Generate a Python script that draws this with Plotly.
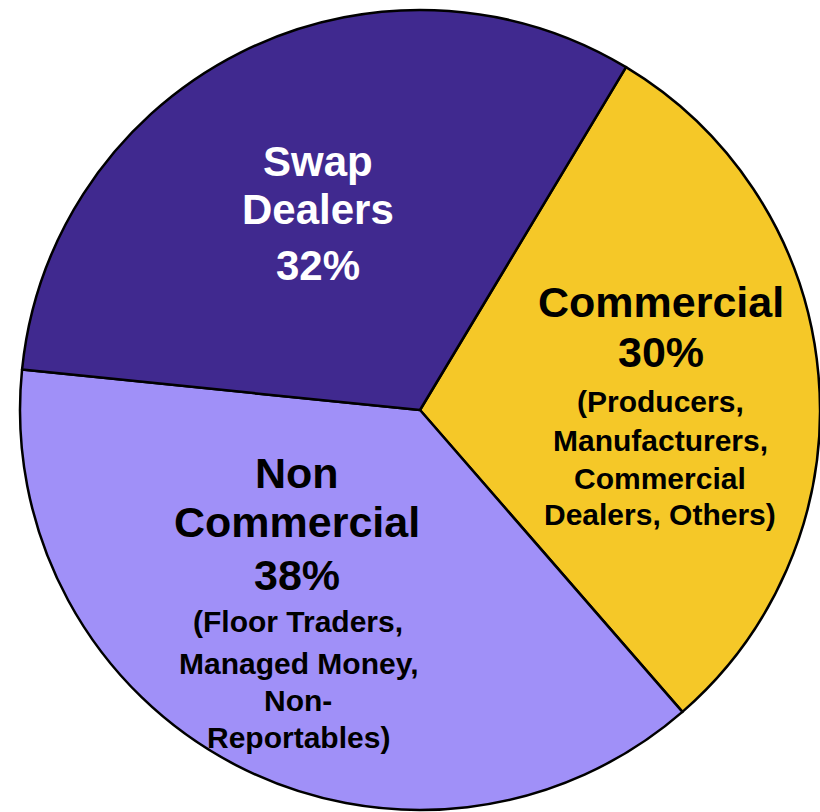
import plotly.graph_objects as go

# ---- data ----
labels = ["Commercial", "Non Commercial", "Swap Dealers"]
values = [30, 38, 32]
slice_colors = ["#F5C828", "#A090F8", "#40298F"]

swap_lines = ["Swap", "Dealers", "32%"]
commercial_main = ["Commercial", "30%"]
commercial_sub = ["(Producers,", "Manufacturers,", "Commercial", "Dealers, Others)"]
noncomm_main = ["Non", "Commercial", "38%"]
noncomm_sub = ["(Floor Traders,", "Managed Money,", "Non-", "Reportables)"]

W, H = 820, 812
FONT = "Liberation Sans, Arial, Helvetica, sans-serif"

fig = go.Figure(go.Pie(
    labels=labels,
    values=values,
    sort=False,
    direction="clockwise",
    rotation=31,
    marker=dict(colors=slice_colors, line=dict(color="black", width=2.5)),
    textinfo="none",
    hoverinfo="label+percent",
    showlegend=False,
    domain=dict(x=[20 / W, 820 / W], y=[1 - 810 / H, 1 - 10 / H]),
))

annotations = []

def add_lines(lines, x_px, y_px_list, size, color):
    for text, y_px in zip(lines, y_px_list):
        annotations.append(dict(
            text="<b>" + text + "</b>",
            x=x_px / W, y=1 - y_px / H,
            xref="paper", yref="paper",
            xanchor="center", yanchor="middle",
            showarrow=False,
            font=dict(family=FONT, size=size, color=color),
        ))

add_lines(swap_lines, 318, [161, 210, 265], 42, "white")
add_lines(commercial_main, 661, [302, 352], 43, "black")
add_lines(commercial_sub, 660, [401, 440, 478, 514], 30, "black")
add_lines(noncomm_main, 297, [473, 522, 575], 43, "black")
add_lines(noncomm_sub, 298, [621, 663, 700, 737], 30, "black")

fig.update_layout(
    width=W, height=H,
    margin=dict(l=0, r=0, t=0, b=0),
    paper_bgcolor="white",
    plot_bgcolor="white",
    annotations=annotations,
)

fig.write_html(
    "out.html",
    config={"displayModeBar": False},
    post_script="document.body.style.margin='0';",
)
